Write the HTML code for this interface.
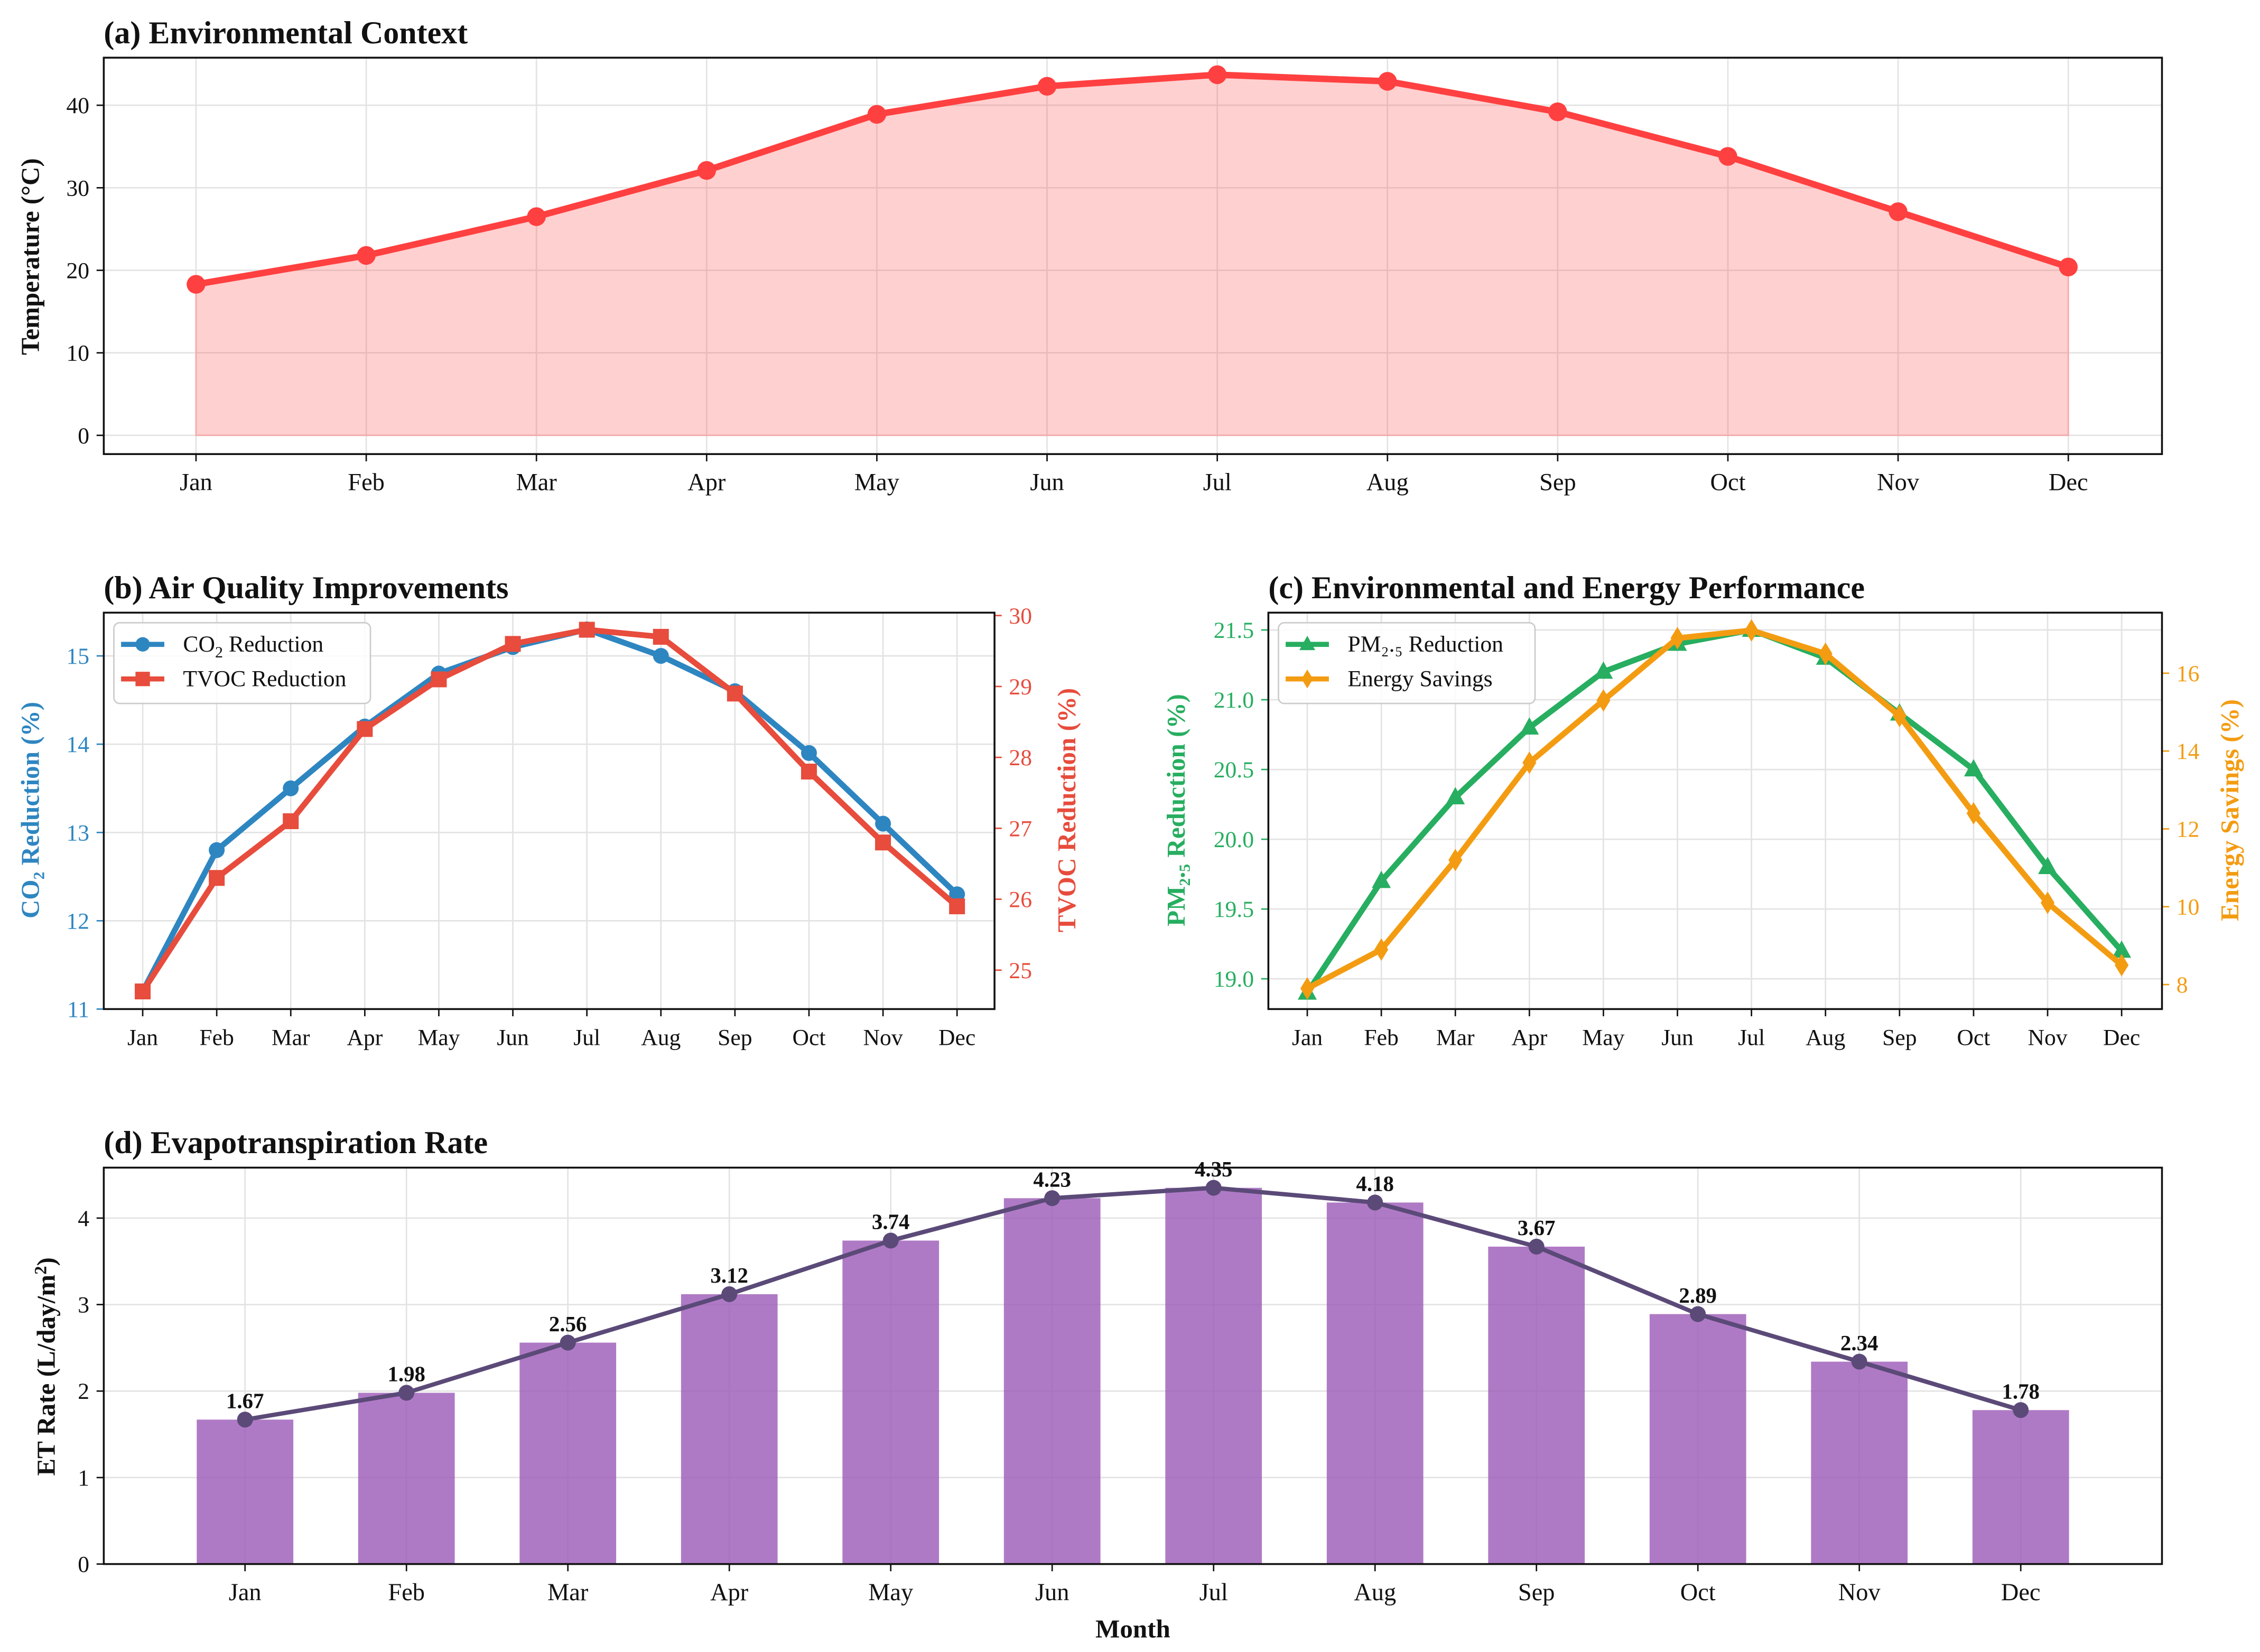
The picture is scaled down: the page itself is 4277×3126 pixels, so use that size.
<!DOCTYPE html>
<html><head><meta charset="utf-8"><style>
html,body{margin:0;padding:0;background:#fff}
svg{display:block;font-family:"Liberation Serif","DejaVu Serif",serif}
</style></head><body>
<svg id="fig" width="4277" height="3126" viewBox="0 0 1568 1146" xmlns="http://www.w3.org/2000/svg"></svg>
<script>
const months=["Jan","Feb","Mar","Apr","May","Jun","Jul","Aug","Sep","Oct","Nov","Dec"];
const temperature=[18.3,21.8,26.5,32.1,38.9,42.3,43.7,42.9,39.2,33.8,27.1,20.4];
const co2=[11.2,12.8,13.5,14.2,14.8,15.1,15.3,15.0,14.6,13.9,13.1,12.3];
const tvoc=[24.7,26.3,27.1,28.4,29.1,29.6,29.8,29.7,28.9,27.8,26.8,25.9];
const pm25=[18.9,19.7,20.3,20.8,21.2,21.4,21.5,21.3,20.9,20.5,19.8,19.2];
const energy=[7.9,8.9,11.2,13.7,15.3,16.9,17.1,16.5,14.9,12.4,10.1,8.5];
const etRate=[1.67,1.98,2.56,3.12,3.74,4.23,4.35,4.18,3.67,2.89,2.34,1.78];
const tempTicks=[0,10,20,30,40];
const co2Ticks=[11,12,13,14,15];
const tvocTicks=[25,26,27,28,29,30];
const pmTicks=[19.0,19.5,20.0,20.5,21.0,21.5];
const energyTicks=[8,10,12,14,16];
const etTicks=[0,1,2,3,4];

const svg=document.getElementById('fig');
const NS="http://www.w3.org/2000/svg";
function el(tag,attrs,parent,text){const e=document.createElementNS(NS,tag);for(const k in attrs)e.setAttribute(k,attrs[k]);if(text!==undefined)e.textContent=text;(parent||svg).appendChild(e);return e;}
function lin(d0,d1,r0,r1){return v=>r0+(v-d0)/(d1-d0)*(r1-r0);}

function panel(name,x0,x1,y0,y1,title){
  const g=el('g',{},svg);
  const t=el('text',{x:x0,y:y0-10,'font-size':22,'font-weight':'bold',fill:'#111'},g,title);
  
  return g;
}
function frame(g,x0,x1,y0,y1){const r=el('rect',{x:x0,y:y0,width:x1-x0,height:y1-y0,fill:'none',stroke:'#111','stroke-width':1.3},g);}
function xAxis(g,xs,y0,y1,fs){
  months.forEach((m,i)=>{const x=xs(i);
    el('line',{x1:x,x2:x,y1:y0,y2:y1,stroke:'#e3e3e3','stroke-width':1},g);
    el('line',{x1:x,x2:x,y1:y1,y2:y1+5,stroke:'#111','stroke-width':1},g);
    const t=el('text',{x:x,y:y1+25,'font-size':fs,'text-anchor':'middle',fill:'#111'},g,m);
    });
}
function yAxis(g,ticks,ys,xa,x0,x1,side,color,fs,fmt,grid){
  ticks.forEach(v=>{const y=ys(v);
    if(grid)el('line',{x1:x0,x2:x1,y1:y,y2:y,stroke:'#e3e3e3','stroke-width':1},g);
    const dx=side==='left'?-5:5;
    el('line',{x1:xa,x2:xa+dx,y1:y,y2:y,stroke:color,'stroke-width':1},g);
    const t=el('text',{x:xa+dx*2,y:y+5.5,'font-size':fs,'text-anchor':side==='left'?'end':'start',fill:color},g,fmt?fmt(v):String(v));
    });
}
function ylabel(g,x,y,txt,color,fs,html){
  const t=el('text',{x:0,y:0,'font-size':fs,'font-weight':'bold','text-anchor':'middle',fill:color,transform:`translate(${x},${y}) rotate(-90)`},g);
  t.innerHTML=html||txt;
}
function series(g,vals,xs,ys,color,w,marker,ms,name){
  const sg=el('g',{},g);
  el('polyline',{points:vals.map((v,i)=>xs(i)+','+ys(v)).join(' '),fill:'none',stroke:color,'stroke-width':w,'stroke-linejoin':'round'},sg);
  vals.forEach((v,i)=>drawMarker(sg,marker,xs(i),ys(v),ms,color));
}
function drawMarker(g,m,x,y,s,c){
  if(m==='o')el('circle',{cx:x,cy:y,r:s,fill:c},g);
  else if(m==='s')el('rect',{x:x-s,y:y-s,width:2*s,height:2*s,fill:c},g);
  else if(m==='^')el('polygon',{points:`${x},${y-s*1.2} ${x-s*1.1},${y+s*0.8} ${x+s*1.1},${y+s*0.8}`,fill:c},g);
  else if(m==='d')el('polygon',{points:`${x},${y-s*1.3} ${x+s*0.8},${y} ${x},${y+s*1.3} ${x-s*0.8},${y}`,fill:c},g);
}
function legend(g,x,y,w,items){
  const lg=el('g',{},g);
  el('rect',{x:x,y:y,width:w,height:56,rx:4,fill:'#fff','fill-opacity':0.85,stroke:'#ccc'},lg);
  items.forEach((it,i)=>{const yy=y+15+i*24;
    const e=el('g',{},lg);
    el('line',{x1:x+5,x2:x+35,y1:yy,y2:yy,stroke:it.c,'stroke-width':3.5},e);
    drawMarker(e,it.m,x+20,yy,5,it.c);
    const t=el('text',{x:x+48,y:yy+5,'font-size':16,fill:'#111'},e);t.innerHTML=it.label;});
}

// (a)
(function(){
  const x0=72,x1=1500,y0=40,y1=315;
  const g=panel('panel-a-temperature',x0,x1,y0,y1,'(a) Environmental Context');
  const xs=i=>136+i*(1435-136)/11, ys=lin(0,40,302,73);
  yAxis(g,tempTicks,ys,x0,x0,x1,'left','#111',16,null,true);
  xAxis(g,xs,y0,y1,17);
  const area=el('polygon',{points:temperature.map((v,i)=>xs(i)+','+ys(v)).join(' ')+` ${xs(11)},${ys(0)} ${xs(0)},${ys(0)}`,fill:'#ff4444','fill-opacity':0.25,stroke:'#f4aaaa'},g);
  
  series(g,temperature,xs,ys,'#ff4040',4.5,'o',6.5,'temperature-line');
  frame(g,x0,x1,y0,y1);
  ylabel(g,27,178,'Temperature (°C)','#111',18);
})();
// (b)
(function(){
  const x0=72,x1=690,y0=425,y1=700;
  const g=panel('panel-b-air-quality',x0,x1,y0,y1,'(b) Air Quality Improvements');
  const xs=i=>99+i*(664-99)/11, ys=lin(11,15,700,455), ys2=lin(25,30,673,427);
  yAxis(g,co2Ticks,ys,x0,x0,x1,'left','#2e86c1',16,null,true);
  yAxis(g,tvocTicks,ys2,x1,x0,x1,'right','#e74c3c',16,null,false);
  xAxis(g,xs,y0,y1,16);
  series(g,co2,xs,ys,'#2e86c1',4,'o',5.5,'co2-line');
  series(g,tvoc,xs,ys2,'#e74c3c',4,'s',5.5,'tvoc-line');
  frame(g,x0,x1,y0,y1);
  legend(g,79,432,178,[{c:'#2e86c1',m:'o',label:'CO<tspan font-size="11" dy="4">2</tspan><tspan dy="-4"> Reduction</tspan>'},{c:'#e74c3c',m:'s',label:'TVOC Reduction'}]);
  ylabel(g,27,562,'','#2e86c1',18,'CO₂ Reduction (%)');
  ylabel(g,746,562,'TVOC Reduction (%)','#e74c3c',18);
})();
// (c)
(function(){
  const x0=880,x1=1500,y0=425,y1=700;
  const g=panel('panel-c-energy',x0,x1,y0,y1,'(c) Environmental and Energy Performance');
  const xs=i=>907+i*(1472-907)/11, ys=lin(19,21.5,679,437), ys2=lin(8,16,683,467);
  yAxis(g,pmTicks,ys,x0,x0,x1,'left','#27ae60',16,v=>v.toFixed(1),true);
  yAxis(g,energyTicks,ys2,x1,x0,x1,'right','#f39c12',16,null,false);
  xAxis(g,xs,y0,y1,16);
  series(g,pm25,xs,ys,'#27ae60',4,'^',6,'pm25-line');
  series(g,energy,xs,ys2,'#f39c12',4,'d',6,'energy-line');
  frame(g,x0,x1,y0,y1);
  legend(g,887,432,178,[{c:'#27ae60',m:'^',label:'PM₂.₅ Reduction'},{c:'#f39c12',m:'d',label:'Energy Savings'}]);
  ylabel(g,822,562,'PM₂.₅ Reduction (%)','#27ae60',18);
  ylabel(g,1553,562,'Energy Savings (%)','#f39c12',18);
})();
// (d)
(function(){
  const x0=72,x1=1500,y0=810,y1=1085;
  const g=panel('panel-d-et-rate',x0,x1,y0,y1,'(d) Evapotranspiration Rate');
  const xs=i=>170+i*(1402-170)/11, ys=lin(0,4,1085,845);
  yAxis(g,etTicks,ys,x0,x0,x1,'left','#111',16,null,true);
  xAxis(g,xs,y0,y1,17);
  const bw=67;
  etRate.forEach((v,i)=>{const r=el('rect',{x:xs(i)-bw/2,y:ys(v),width:bw,height:ys(0)-ys(v),fill:'#9b59b6','fill-opacity':0.8},g);
    });
  series(g,etRate,xs,ys,'#5b4a78',3,'o',5.5,'et-line');
  etRate.forEach((v,i)=>{const t=el('text',{x:xs(i),y:ys(v)-8,'font-size':15,'font-weight':'bold','text-anchor':'middle',fill:'#111'},g,v.toFixed(2));
    });
  frame(g,x0,x1,y0,y1);
  ylabel(g,38,948,'','#111',18,'ET Rate (L/day/m<tspan font-size="12" dy="-6">2</tspan><tspan dy="6">)</tspan>');
  const xl=el('text',{x:786,y:1136,'font-size':18,'font-weight':'bold','text-anchor':'middle',fill:'#111'},g,'Month');
  
})();
</script>
</body></html>
